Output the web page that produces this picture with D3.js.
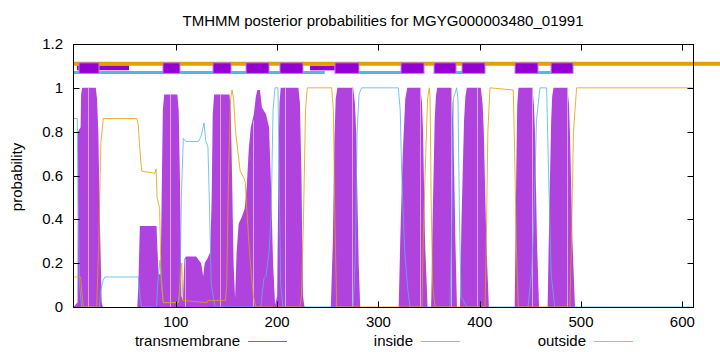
<!DOCTYPE html>
<html><head><meta charset="utf-8">
<script src="https://cdn.jsdelivr.net/npm/d3@7"></script>
<style>body{margin:0;background:#fff}svg{display:block;font-family:"Liberation Sans",Arial,sans-serif}</style>
</head><body><svg id="c" width="720" height="352"></svg>
<script>
// ---- data (residue position, probability) ----
const titleText = "TMHMM posterior probabilities for MGYG000003480_01991";
const xTicks = [100, 200, 300, 400, 500, 600];
const yTicks = [0, 0.2, 0.4, 0.6, 0.8, 1, 1.2];
const yTickLabels = ["0", "0.2", "0.4", "0.6", "0.8", "1", "1.2"];
const seriesNames = ["transmembrane", "inside", "outside"];

const tmProb = [[-1,0],[3,0.02],[3.4,0.8],[6,0.82],[6.5,0.97],[7.5,1.0],[21,1.0],[22.2,0.95],[23.5,0.8],[25,0.4],[26.8,0.02],[28,0],[62,0],[63,0.1],[64.5,0.37],[81,0.37],[81.5,0.3],[83,0.15],[85,0.15],[86,0.5],[87.2,0.9],[88.5,0.97],[101.5,0.97],[102.8,0.9],[104,0.6],[105.5,0.05],[107,0.03],[108.5,0.22],[110,0.23],[120,0.23],[125,0.2],[127,0.14],[128.5,0.2],[131,0.22],[134,0.25],[135.4,0.5],[136.4,0.88],[137.8,0.97],[153,0.97],[154.3,0.88],[155.5,0.6],[157,0.2],[158.5,0.04],[160,0.25],[162,0.38],[165,0.41],[168,0.45],[170,0.55],[172,0.72],[174,0.82],[177,0.88],[179,0.96],[180.5,0.99],[183,0.99],[185,0.91],[189,0.88],[192,0.82],[194,0.55],[196,0.2],[198,0.01],[200,0.05],[201.5,0.7],[202.3,0.93],[203.5,1.0],[221,1.0],[222.5,0.93],[224,0.6],[225.5,0.05],[227,0],[253,0],[255,0.3],[256.5,0.75],[257.8,0.95],[259.5,1.0],[275,1.0],[276.8,0.93],[278,0.8],[280.5,0.2],[282,0],[320,0],[321.5,0.3],[324,0.7],[326.5,0.95],[328.5,1.0],[341.5,1.0],[343,0.93],[344,0.8],[346,0.3],[348.5,0],[352,0],[353.5,0.4],[355.5,0.85],[356.7,0.96],[358,1.0],[371.5,1.0],[373,0.93],[374,0.8],[376,0.3],[377.5,0],[380.5,0],[382,0.4],[384.5,0.85],[385.8,0.96],[387.3,1.0],[401,1.0],[402.8,0.93],[404,0.8],[406.5,0.3],[409,0],[434.5,0],[436,0.6],[437,0.92],[438.2,1.0],[452,1.0],[453.5,0.92],[454.5,0.8],[456.5,0.3],[458.5,0],[467,0],[468.5,0.4],[470.5,0.85],[471.5,0.96],[472.8,1.0],[486.5,1.0],[488,0.93],[489,0.8],[491.5,0.3],[494,0],[610,0]];

// faint lighter lines visible inside the purple peaks (position, top)
const tmLightLines = [[13.3,1.0],[94.2,0.97],[109.5,0.22],[143.6,0.97],[175.9,0.85],[207.7,1.0],[273.6,1.0],[341,1.0],[371.3,1.0],[397,1.0],[451.2,1.0],[485.8,1.0]];

const insideProb = [[-1,0.86],[2.7,0.86],[3.5,0.5],[5,0.1],[7,0],[24.5,0],[26,0.08],[28.4,0.123],[30,0.137],[63,0.137],[64.5,0.05],[66.3,0],[81,0],[82,0.1],[84.4,0.214],[85.5,0.15],[87.6,0.02],[102.4,0.02],[104,0.05],[105.5,0.5],[107.4,0.77],[110,0.755],[122.2,0.755],[125,0.78],[127.8,0.84],[129.5,0.76],[131.7,0.73],[133,0.5],[135,0.1],[138.7,0],[184,0],[185,0.05],[187,0.13],[189,0.14],[192,0.25],[194,0.42],[196,0.9],[197.9,1.0],[200.8,1.0],[202,0.6],[203.5,0.1],[205.8,0],[275,0],[277,0.2],[279,0.8],[280.8,0.97],[283.4,1.0],[319.6,1.0],[321.5,0.9],[323,0.6],[326,0.25],[329,0.08],[331.1,0],[370.6,0],[372.5,0.4],[374,0.95],[377.2,1.0],[378.5,0.95],[380,0.4],[381.5,0.05],[387.1,0],[447.6,0],[451,0.15],[453.5,0.4],[456,0.85],[459.4,1.0],[466,1.0],[468,0.6],[470.5,0.15],[474,0],[610,0]];

const outsideProb = [[-1,0.137],[6.1,0.137],[7.5,0.05],[8.7,0],[21.9,0],[24,0.3],[26,0.75],[28.4,0.86],[61.4,0.86],[63,0.83],[64,0.75],[66.3,0.62],[79.4,0.61],[80.5,0.63],[81.5,0.5],[84,0.45],[85.5,0.12],[87.6,0.02],[102.4,0.02],[104,0.1],[105.8,0.2],[107,0.03],[130.5,0.02],[131.7,0.03],[149,0.03],[150.2,0.1],[152,0.6],[154,0.95],[155.5,0.99],[157,0.95],[159,0.8],[161,0.72],[163.5,0.62],[167,0.59],[168.5,0.57],[170,0.45],[172,0.3],[174,0.18],[176.5,0.05],[179,0],[222.5,0],[224,0.05],[226,0.4],[228,0.9],[229.8,1.0],[253.8,1.0],[255.5,0.9],[257,0.4],[258.8,0],[343,0],[344.2,0.3],[346,0.6],[348.5,0.95],[350.2,1.0],[351,0.95],[352,0.5],[353.5,0.1],[355.8,0],[405.2,0],[406.5,0.3],[408,0.8],[410.1,1.0],[433.1,0.99],[434.5,0.7],[436,0.3],[438,0],[489,0],[490.5,0.3],[492.5,0.8],[495.6,1.0],[610,1.0]];

// predicted topology strip
const outsideSegs = [[-1.5, 640]];
const insideSegs = [[-1.5, 247], [280, 330], [374, 384], [455, 470]];
const tmThinSegs = [[2.4, 53.8], [232.5, 257]];
const tmBoxSegs = [[4.4, 24.2], [87.3, 104.1], [136.7, 154.5], [169.3, 192], [202.8, 225.5], [257.1, 280.8], [322.3, 345], [354.9, 376.6], [382.5, 405.2], [434.8, 457.5], [470.4, 492.1]];
const stripLevels = {outside: 1.11, tm: 1.09, inside: 1.07};

// ---- drawing ----
const svg = d3.select("#c");
const L = 73, R = 693, T = 44, B = 307;
const x = d3.scaleLinear().domain([-1.5, 610.5]).range([L, R]);
const y = d3.scaleLinear().domain([0, 1.2]).range([B, T]);
const cTM = "#9400d3", cIn = "#56b4e9", cOut = "#e69f00";

svg.append("defs").append("clipPath").attr("id", "pc")
  .append("rect").attr("x", L).attr("y", T).attr("width", R - L).attr("height", B - T);

const g = svg.append("g").attr("clip-path", "url(#pc)");
g.append("path").datum(tmProb)
  .attr("d", d3.area().x(d => x(d[0])).y0(y(0)).y1(d => y(d[1])))
  .attr("fill", cTM).attr("fill-opacity", 0.74);
g.selectAll(".ll").data(tmLightLines).join("line")
  .attr("x1", d => Math.round(x(d[0])) + 0.5).attr("x2", d => Math.round(x(d[0])) + 0.5)
  .attr("y1", y(0)).attr("y2", d => y(d[1]))
  .attr("stroke", "#d2a6ee").attr("stroke-width", 1);
const line = d3.line().x(d => x(d[0])).y(d => y(d[1]));
g.append("path").datum(insideProb).attr("d", line)
  .attr("fill", "none").attr("stroke", cIn).attr("stroke-width", 1).attr("stroke-opacity", 0.8);
g.append("path").datum(outsideProb).attr("d", line)
  .attr("fill", "none").attr("stroke", cOut).attr("stroke-width", 1).attr("stroke-opacity", 0.8);

// strip
svg.selectAll(".os").data(outsideSegs).join("line")
  .attr("x1", d => x(d[0])).attr("x2", d => x(d[1]))
  .attr("y1", y(stripLevels.outside)).attr("y2", y(stripLevels.outside))
  .attr("stroke", cOut).attr("stroke-width", 4);
svg.selectAll(".is").data(insideSegs).join("line")
  .attr("x1", d => x(d[0])).attr("x2", d => x(d[1]))
  .attr("y1", y(stripLevels.inside)).attr("y2", y(stripLevels.inside))
  .attr("stroke", cIn).attr("stroke-width", 3);
svg.selectAll(".ts").data(tmThinSegs).join("line")
  .attr("x1", d => x(d[0])).attr("x2", d => x(d[1]))
  .attr("y1", y(stripLevels.tm)).attr("y2", y(stripLevels.tm))
  .attr("stroke", cTM).attr("stroke-width", 4.5);
svg.selectAll(".tb").data(tmBoxSegs).join("rect")
  .attr("x", d => x(d[0])).attr("width", d => x(d[1]) - x(d[0]))
  .attr("y", y(stripLevels.tm) - 5.3).attr("height", 10.6)
  .attr("fill", cTM).attr("stroke", "#c27ce6").attr("stroke-width", 1);

// frame
svg.append("rect").attr("x", L + 0.5).attr("y", T + 0.5).attr("width", R - L).attr("height", B - T)
  .attr("fill", "none").attr("stroke", "#000").attr("stroke-width", 1);

// ticks
const tk = 6;
svg.selectAll(".yt").data(yTicks).join("path")
  .attr("d", d => `M${L + 0.5},${Math.round(y(d)) + 0.5}h${tk}M${R + 0.5},${Math.round(y(d)) + 0.5}h${-tk}`)
  .attr("stroke", "#000");
svg.selectAll(".xt").data(xTicks).join("path")
  .attr("d", d => `M${Math.round(x(d)) + 0.5},${B + 0.5}v${-tk}M${Math.round(x(d)) + 0.5},${T + 0.5}v${tk}`)
  .attr("stroke", "#000");

const fs = "15px";
svg.selectAll(".yl").data(yTicks).join("text")
  .attr("x", 63).attr("y", d => y(d) + 5).attr("text-anchor", "end")
  .attr("font-size", fs).text((d, i) => yTickLabels[i]);
svg.selectAll(".xl").data(xTicks).join("text")
  .attr("x", d => x(d)).attr("y", 327).attr("text-anchor", "middle")
  .attr("font-size", fs).text(d => d);

svg.append("text").attr("x", 383).attr("y", 26).attr("text-anchor", "middle")
  .attr("font-size", fs).text(titleText);
svg.append("text").attr("transform", "translate(22,177) rotate(-90)")
  .attr("text-anchor", "middle").attr("font-size", fs).text("probability");

// legend
const legEnd = [240, 413, 586];
const legColors = ["#a648d8", "#7cc4ee", "#eeb040"];
seriesNames.forEach((n, i) => {
  svg.append("text").attr("x", legEnd[i]).attr("y", 346).attr("text-anchor", "end")
    .attr("font-size", fs).text(n);
  svg.append("line").attr("x1", legEnd[i] + 8).attr("x2", legEnd[i] + 47)
    .attr("y1", 341.5).attr("y2", 341.5).attr("stroke", legColors[i]).attr("stroke-width", 1.2);
});
</script></body></html>
